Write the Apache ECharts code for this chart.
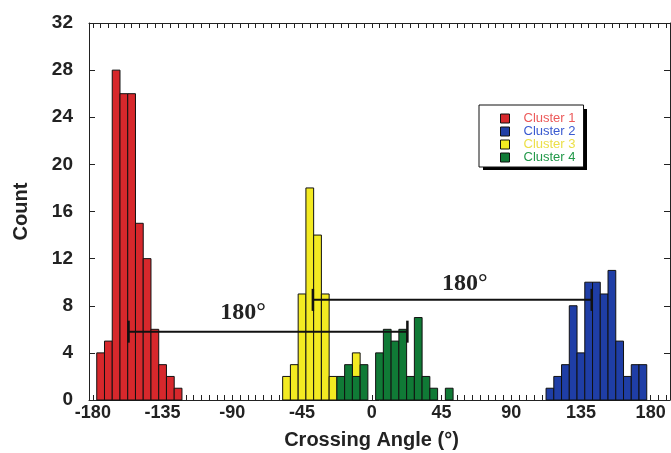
<!DOCTYPE html>
<html>
<head>
<meta charset="utf-8">
<script src="https://cdn.jsdelivr.net/npm/echarts@6/dist/echarts.min.js"></script>
<style>html,body{margin:0;padding:0;background:#fff}#c{width:671px;height:453px}</style>
</head>
<body>
<div id="c"></div>
<script>
// ---- data ----
const binWidth = 5;
const clusterNames = ['Cluster 1', 'Cluster 2', 'Cluster 3', 'Cluster 4'];
const cluster1Centers = [-175, -170, -165, -160, -155, -150, -145, -140, -135, -130, -125];
const cluster1Counts  = [4, 5, 28, 26, 26, 15, 12, 6, 3, 2, 1];
const cluster2Centers = [115, 120, 125, 130, 135, 140, 145, 150, 155, 160, 165, 170, 175];
const cluster2Counts  = [1, 2, 3, 8, 4, 10, 10, 9, 11, 5, 2, 3, 3];
const cluster3Centers = [-55, -50, -45, -40, -35, -30, -25, -10];
const cluster3Counts  = [2, 3, 9, 18, 14, 9, 2, 4];
const cluster4Centers = [-20, -15, -10, -5, 5, 10, 15, 20, 25, 30, 35, 40, 50];
const cluster4Counts  = [2, 3, 2, 3, 4, 6, 5, 6, 2, 7, 2, 1, 1];
const xTickValues = [];
for (let v = -180; v <= 190; v += 5) xTickValues.push(v);
const xLabelValues = [-180, -135, -90, -45, 0, 45, 90, 135, 180];
// annotation brackets: [xStart, xEnd, y]
const bracketLower = [-157, 23, 5.8];
const bracketUpper = [-38, 142, 8.5];
// annotation labels: [x, y, text]
const labelLower = [-83, 7.4, '180°'];
const labelUpper = [60, 9.9, '180°'];

const barColors = ['#d7282c', '#1f3ea6', '#f3ea22', '#107a36'];
const textColors = ['#ec5a5a', '#3a5ad0', '#ece04a', '#23994a'];

function zip(a, b) { return a.map((x, i) => [x, b[i]]); }
const clusterData = [
  zip(cluster1Centers, cluster1Counts),
  zip(cluster2Centers, cluster2Counts),
  zip(cluster3Centers, cluster3Counts),
  zip(cluster4Centers, cluster4Counts)
];

function histItem(color) {
  return function (params, api) {
    const c = api.value(0), v = api.value(1);
    const p0 = api.coord([c - binWidth / 2, v]);
    const p1 = api.coord([c + binWidth / 2, 0]);
    return {
      type: 'rect',
      shape: { x: p0[0], y: p0[1], width: p1[0] - p0[0], height: p1[1] - p0[1] },
      style: { fill: color, stroke: '#111', lineWidth: 1 }
    };
  };
}

function bracketItem(params, api) {
  const a = api.coord([api.value(0), api.value(2)]);
  const b = api.coord([api.value(1), api.value(2)]);
  const h = 11;
  return {
    type: 'group',
    children: [
      { type: 'line', shape: { x1: a[0], y1: a[1], x2: b[0], y2: b[1] }, style: { stroke: '#111', lineWidth: 2 } },
      { type: 'line', shape: { x1: a[0], y1: a[1] - h, x2: a[0], y2: a[1] + h }, style: { stroke: '#111', lineWidth: 2.5 } },
      { type: 'line', shape: { x1: b[0], y1: b[1] - h, x2: b[0], y2: b[1] + h }, style: { stroke: '#111', lineWidth: 2.5 } }
    ]
  };
}

const labelTexts = [labelLower[2], labelUpper[2]];
function labelItem(params, api) {
  const p = api.coord([api.value(0), api.value(1)]);
  return {
    type: 'text',
    x: p[0], y: p[1],
    style: {
      text: labelTexts[params.dataIndex],
      fill: '#222',
      font: 'bold 24px "Liberation Serif", "DejaVu Serif", serif',
      align: 'center', verticalAlign: 'middle'
    }
  };
}

const chart = echarts.init(document.getElementById('c'), null, { renderer: 'canvas' });

const series = clusterNames.map((name, i) => ({
  name: name,
  type: 'custom',
  renderItem: histItem(barColors[i]),
  itemStyle: { color: barColors[i], borderColor: '#111', borderWidth: 1 },
  encode: { x: 0, y: 1 },
  data: clusterData[i],
  z: 2 + i
}));
series.push({
  type: 'custom',
  renderItem: bracketItem,
  encode: { x: [0, 1], y: 2 },
  data: [bracketLower, bracketUpper],
  z: 10
});
series.push({
  type: 'custom',
  renderItem: labelItem,
  encode: { x: 0, y: 1 },
  data: [[labelLower[0], labelLower[1]], [labelUpper[0], labelUpper[1]]],
  z: 11
});

const axisFont = { fontFamily: '"Liberation Sans", Arial, sans-serif', fontWeight: 'bold', color: '#222' };
const lineStyle = { color: '#222', width: 1 };

chart.setOption({
  animation: false,
  backgroundColor: '#fff',
  grid: { left: 89, right: 1, top: 23, bottom: 53, containLabel: false, outerBoundsMode: 'none' },
  graphic: [{
    type: 'rect', left: 483, top: 109, z: 0, silent: true,
    shape: { width: 104, height: 61 },
    style: { fill: '#000' }
  }],
  legend: {
    orient: 'vertical',
    left: 479, top: 105,
    padding: [7, 8, 3, 21],
    itemGap: 0,
    itemWidth: 9, itemHeight: 9,
    icon: 'rect',
    z: 20,
    backgroundColor: '#fff',
    borderColor: '#111', borderWidth: 1,
    itemStyle: { borderColor: '#111', borderWidth: 1 },
    textStyle: { fontFamily: '"Liberation Sans", Arial, sans-serif', fontSize: 13, lineHeight: 12, padding: [0, 0, 0, 9] },
    data: clusterNames.map((n, i) => ({ name: n, textStyle: { color: textColors[i] } }))
  },
  xAxis: [{
    type: 'value', position: 'bottom',
    min: -182.5, max: 192.5,
    name: 'Crossing Angle (°)', nameLocation: 'middle', nameGap: 30,
    nameTextStyle: Object.assign({ fontSize: 20, padding: [0, 16, 0, 0] }, axisFont),
    axisLine: { show: true, onZero: false, lineStyle: lineStyle },
    axisTick: { show: true, inside: true, length: 5, customValues: xTickValues, lineStyle: lineStyle },
    axisLabel: Object.assign({ fontSize: 18, margin: 4, customValues: xLabelValues }, axisFont),
    splitLine: { show: false }
  }, {
    type: 'value', position: 'top',
    min: -182.5, max: 192.5,
    axisLine: { show: true, onZero: false, lineStyle: lineStyle },
    axisTick: { show: true, inside: true, length: 5, customValues: xTickValues, lineStyle: lineStyle },
    axisLabel: { show: false },
    splitLine: { show: false }
  }],
  yAxis: [{
    type: 'value', position: 'left',
    min: 0, max: 32, interval: 4,
    name: 'Count', nameLocation: 'middle', nameGap: 58,
    nameTextStyle: Object.assign({ fontSize: 20 }, axisFont),
    axisLine: { show: true, onZero: false, lineStyle: lineStyle },
    axisTick: { show: true, inside: true, length: 6, lineStyle: lineStyle },
    axisLabel: Object.assign({ fontSize: 19, margin: 16 }, axisFont),
    splitLine: { show: false }
  }, {
    type: 'value', position: 'right',
    min: 0, max: 32, interval: 4,
    axisLine: { show: true, onZero: false, lineStyle: lineStyle },
    axisTick: { show: true, inside: true, length: 6, lineStyle: lineStyle },
    axisLabel: { show: false },
    splitLine: { show: false }
  }],
  series: series
});
</script>
</body>
</html>
